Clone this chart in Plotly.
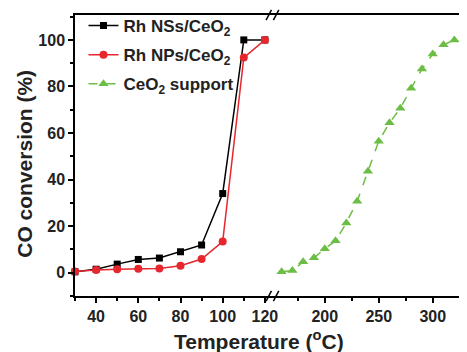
import plotly.graph_objects as go

temp_rh = [30, 40, 50, 60, 70, 80, 90, 100, 110, 120]
ns_conv = [0.4, 1.5, 3.7, 5.7, 6.3, 9.0, 11.9, 34.0, 100.0, 100.0]
np_conv = [0.5, 1.2, 1.5, 1.7, 1.8, 3.0, 5.9, 13.4, 92.4, 100.0]

temp_ceo2 = [160, 170, 180, 190, 200, 210, 220, 230, 240, 250, 260, 270, 280, 290, 300, 310, 320, 330]
ceo2_conv = [0.4, 0.9, 4.7, 6.4, 10.3, 13.7, 21.4, 30.7, 43.6, 56.5, 64.4, 70.6, 79.2, 87.5, 93.9, 97.9, 100.0, 100.0]

left_ticks = [40, 60, 80, 100, 120]
right_ticks = [200, 250, 300]
y_ticks = [0, 20, 40, 60, 80, 100]

FONT = "Arial, Liberation Sans, sans-serif"
BLACK = "#000000"
RED = "#e8262d"
GREEN = "#6cbd45"

fig = go.Figure()
fig.add_trace(go.Scatter(x=temp_rh, y=ns_conv, mode="lines+markers", name="Rh NSs/CeO<sub>2</sub>",
                         legendgroup="a",
                         line=dict(color=BLACK, width=1.5),
                         marker=dict(symbol="square", size=7, color=BLACK),
                         cliponaxis=False, xaxis="x", yaxis="y"))
fig.add_trace(go.Scatter(x=temp_rh, y=np_conv, mode="lines+markers", name="Rh NPs/CeO<sub>2</sub>",
                         legendgroup="b",
                         line=dict(color=RED, width=1.5),
                         marker=dict(symbol="circle", size=8, color=RED),
                         cliponaxis=False, xaxis="x", yaxis="y"))
fig.add_trace(go.Scatter(x=temp_ceo2, y=ceo2_conv, mode="lines+markers", name="CeO<sub>2</sub> support",
                         legendgroup="c",
                         line=dict(color=GREEN, width=1.5, dash="dash"),
                         marker=dict(symbol="triangle-up", size=9, color=GREEN),
                         cliponaxis=False, xaxis="x2", yaxis="y"))

axis_common = dict(showline=True, linecolor="black", linewidth=1.5, mirror=True,
                   ticks="outside", ticklen=5, tickwidth=1.5, tickcolor="black",
                   showgrid=False, zeroline=False,
                   tickfont=dict(family=FONT, size=16, color="#222", weight="bold"))

fig.update_layout(
    width=459, height=344,
    margin=dict(l=67, r=0, t=6, b=56),
    paper_bgcolor="white", plot_bgcolor="white",
    showlegend=True,
    legend=dict(x=0.022, y=1.025, xanchor="left", yanchor="top",
                bgcolor="rgba(0,0,0,0)", tracegroupgap=4,
                font=dict(family=FONT, size=17, color="#222", weight="bold")),
    xaxis=dict(domain=[0, 0.51], range=[30, 123.3], tickvals=left_ticks,
               minor=dict(tick0=30, dtick=10, ticklen=3, tickwidth=1.5, tickcolor="black", ticks="outside"),
               **axis_common),
    xaxis2=dict(domain=[0.51, 1], range=[151, 326.2], tickvals=right_ticks, anchor="y",
                minor=dict(tick0=175, dtick=25, ticklen=3, tickwidth=1.5, tickcolor="black", ticks="outside"),
                **axis_common),
    yaxis=dict(range=[-10, 110.7], tickvals=y_ticks,
               minor=dict(tick0=-10, dtick=10, ticklen=3, tickwidth=1.5, tickcolor="black", ticks="outside"),
               **{**axis_common, "mirror": False}),
)

# axis titles
fig.add_annotation(text="Temperature (<sup>o</sup>C)", xref="paper", yref="paper",
                   x=0.476, y=-0.156, xanchor="center", yanchor="middle", showarrow=False,
                   font=dict(family=FONT, size=21, color="#222", weight="bold"))
fig.add_annotation(text="CO conversion (%)", xref="paper", yref="paper", textangle=-90,
                   x=-0.13, y=0.47, xanchor="center", yanchor="middle", showarrow=False,
                   font=dict(family=FONT, size=21, color="#222", weight="bold"))

# axis break marks
bx = 0.51
for yb in (0, 1):
    for off in (-0.008, 0.011):
        fig.add_shape(type="line", xref="paper", yref="paper",
                      x0=bx + off - 0.007, x1=bx + off + 0.007, y0=yb - 0.018, y1=yb + 0.018,
                      line=dict(color="black", width=1.5), layer="above")

fig.write_html("out.html")
